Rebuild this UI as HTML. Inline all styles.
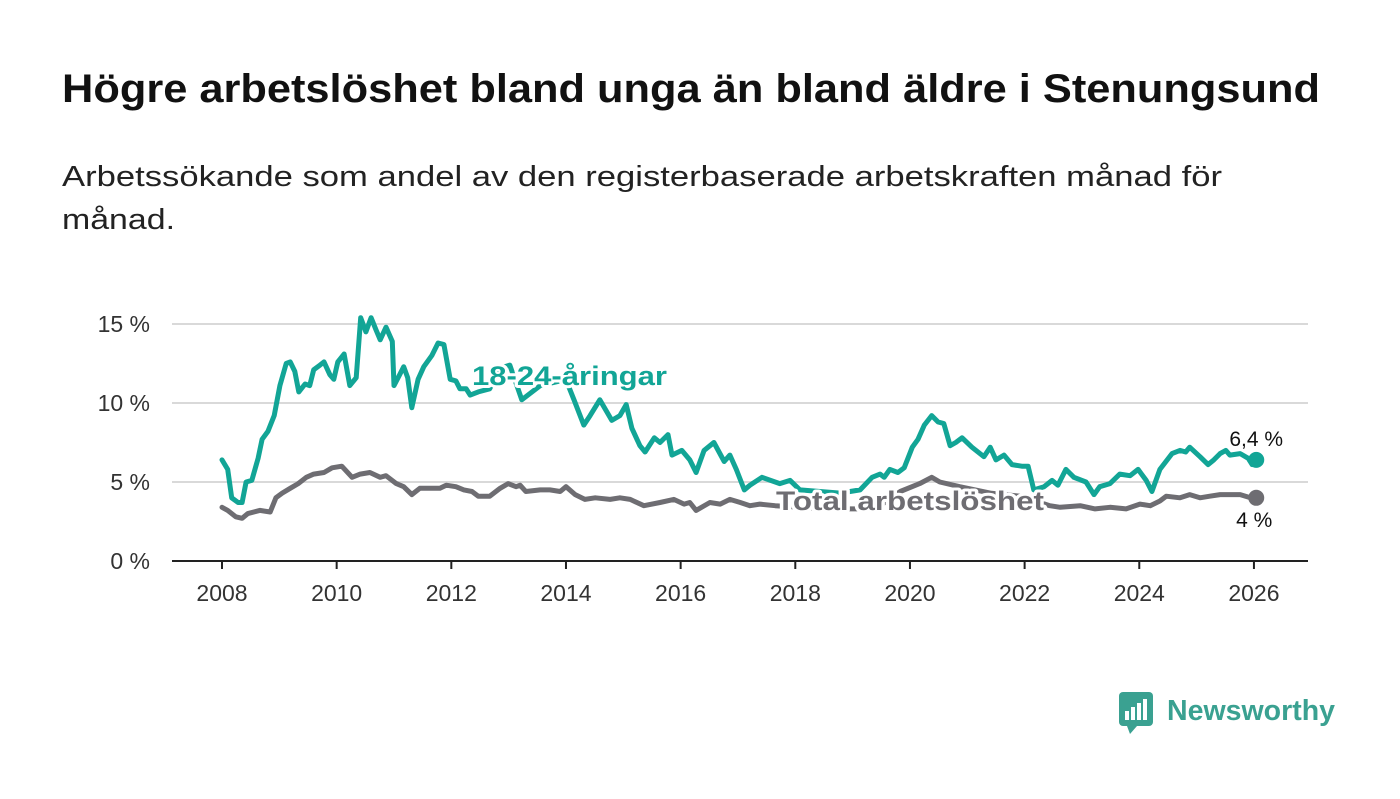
<!DOCTYPE html>
<html><head><meta charset="utf-8"><style>
html,body{margin:0;padding:0;background:#fff;}
body{width:1400px;height:794px;overflow:hidden;font-family:"Liberation Sans",sans-serif;}
</style></head><body>
<svg id="c" width="1400" height="794" xmlns="http://www.w3.org/2000/svg">
<text x="62" y="102" font-size="40" font-weight="bold" fill="#111" textLength="1258" lengthAdjust="spacingAndGlyphs">Högre arbetslöshet bland unga än bland äldre i Stenungsund</text>
<text x="62" y="186" font-size="29" fill="#222" textLength="1160" lengthAdjust="spacingAndGlyphs">Arbetssökande som andel av den registerbaserade arbetskraften månad för</text>
<text x="62" y="229" font-size="29" fill="#222" textLength="113" lengthAdjust="spacingAndGlyphs">månad.</text>
<g id="grid"></g><g id="series"></g><g id="labels"></g>
<g>
<rect x="1119" y="692" width="34" height="34" rx="4" fill="#3aa191"/>
<path d="M1127 726 L1137 726 L1130 734 Z" fill="#3aa191"/>
<rect x="1125" y="711" width="4" height="9" fill="#fff"/><rect x="1131" y="707" width="4" height="13" fill="#fff"/><rect x="1137" y="703" width="4" height="17" fill="#fff"/><rect x="1143" y="699" width="4" height="21" fill="#fff"/>
<text x="1167" y="720" font-size="29" font-weight="bold" fill="#3aa191" textLength="168" lengthAdjust="spacingAndGlyphs">Newsworthy</text>
</g>
</svg>
<script>
const yTicks=[0,5,10,15];
const yTickLabels=["0 %","5 %","10 %","15 %"];
const xTicks=[2008,2010,2012,2014,2016,2018,2020,2022,2024,2026];
const youthDates=[2008.00,2008.10,2008.17,2008.28,2008.35,2008.42,2008.52,2008.63,2008.70,2008.80,2008.91,2009.01,2009.12,2009.19,2009.27,2009.34,2009.45,2009.53,2009.60,2009.71,2009.78,2009.88,2009.95,2010.02,2010.13,2010.23,2010.34,2010.42,2010.51,2010.60,2010.69,2010.76,2010.86,2010.97,2011.00,2011.10,2011.17,2011.24,2011.31,2011.42,2011.52,2011.66,2011.77,2011.87,2011.98,2012.08,2012.15,2012.26,2012.33,2012.47,2012.67,2012.85,2013.02,2013.23,2013.55,2013.90,2014.04,2014.14,2014.31,2014.42,2014.59,2014.80,2014.94,2015.05,2015.15,2015.29,2015.38,2015.54,2015.64,2015.78,2015.85,2016.02,2016.16,2016.27,2016.41,2016.58,2016.76,2016.86,2016.97,2017.11,2017.21,2017.42,2017.73,2017.91,2018.08,2018.43,2018.78,2019.13,2019.34,2019.48,2019.55,2019.65,2019.79,2019.90,2020.04,2020.14,2020.25,2020.38,2020.49,2020.59,2020.70,2020.80,2020.91,2021.08,2021.29,2021.40,2021.50,2021.64,2021.78,2021.95,2022.06,2022.16,2022.34,2022.48,2022.58,2022.72,2022.86,2023.07,2023.21,2023.31,2023.49,2023.66,2023.84,2023.98,2024.12,2024.22,2024.36,2024.57,2024.71,2024.81,2024.88,2025.06,2025.20,2025.30,2025.41,2025.51,2025.58,2025.76,2025.90,2025.97,2026.04];
const youthValues=[6.4,5.8,4.0,3.7,3.7,5.0,5.1,6.5,7.7,8.2,9.2,11.1,12.5,12.6,12.0,10.7,11.2,11.1,12.1,12.4,12.6,11.8,11.5,12.6,13.1,11.1,11.6,15.4,14.5,15.4,14.6,14.0,14.8,13.9,11.1,11.8,12.3,11.6,9.7,11.5,12.3,13.0,13.8,13.7,11.5,11.4,10.9,10.9,10.5,10.7,10.9,12.2,12.4,10.2,11.1,11.4,11.1,10.2,8.6,9.2,10.2,8.9,9.2,9.9,8.4,7.3,6.9,7.8,7.5,8.0,6.7,7.0,6.4,5.6,7.0,7.5,6.3,6.7,5.8,4.5,4.8,5.3,4.9,5.1,4.5,4.4,4.3,4.5,5.3,5.5,5.3,5.8,5.6,5.9,7.2,7.7,8.6,9.2,8.8,8.7,7.3,7.5,7.8,7.2,6.6,7.2,6.4,6.7,6.1,6.0,6.0,4.5,4.7,5.1,4.8,5.8,5.3,5.0,4.2,4.7,4.9,5.5,5.4,5.8,5.1,4.4,5.8,6.8,7.0,6.9,7.2,6.6,6.1,6.4,6.8,7.0,6.7,6.8,6.5,6.1,6.4];
const totalDates=[2008.00,2008.10,2008.24,2008.35,2008.45,2008.66,2008.84,2008.94,2009.05,2009.19,2009.33,2009.47,2009.60,2009.78,2009.92,2010.09,2010.27,2010.41,2010.58,2010.76,2010.86,2011.04,2011.17,2011.31,2011.45,2011.80,2011.91,2012.08,2012.22,2012.36,2012.47,2012.67,2012.85,2012.99,2013.13,2013.20,2013.30,2013.55,2013.72,2013.90,2014.00,2014.16,2014.33,2014.51,2014.77,2014.94,2015.12,2015.36,2015.64,2015.88,2016.06,2016.16,2016.27,2016.51,2016.69,2016.86,2017.04,2017.21,2017.38,2017.65,2018.08,2018.61,2019.13,2019.48,2019.83,2020.17,2020.38,2020.52,2020.87,2021.40,2021.92,2022.27,2022.44,2022.62,2022.97,2023.23,2023.49,2023.77,2024.01,2024.19,2024.36,2024.47,2024.71,2024.88,2025.06,2025.23,2025.41,2025.76,2025.94,2026.04];
const totalValues=[3.4,3.2,2.8,2.7,3.0,3.2,3.1,4.0,4.3,4.6,4.9,5.3,5.5,5.6,5.9,6.0,5.3,5.5,5.6,5.3,5.4,4.9,4.7,4.2,4.6,4.6,4.8,4.7,4.5,4.4,4.1,4.1,4.6,4.9,4.7,4.8,4.4,4.5,4.5,4.4,4.7,4.2,3.9,4.0,3.9,4.0,3.9,3.5,3.7,3.9,3.6,3.7,3.2,3.7,3.6,3.9,3.7,3.5,3.6,3.5,3.4,3.3,3.3,3.5,4.4,4.9,5.3,5.0,4.7,4.3,4.1,3.7,3.5,3.4,3.5,3.3,3.4,3.3,3.6,3.5,3.8,4.1,4.0,4.2,4.0,4.1,4.2,4.2,4.0,4.0];
const NS="http://www.w3.org/2000/svg";
const X=y=>222+(y-2008)*57.33;
const Y=v=>561-v*15.8;
function mk(t,a,p){const e=document.createElementNS(NS,t);for(const k in a)e.setAttribute(k,a[k]);p.appendChild(e);return e;}
const grid=document.getElementById('grid'),ser=document.getElementById('series'),lab=document.getElementById('labels');
yTicks.forEach((t,i)=>{
  if(t>0){const l=mk('line',{x1:172,x2:1308,y1:Y(t),y2:Y(t),stroke:'#d9d9d9','stroke-width':2},grid);
  
  }
  const tx=mk('text',{x:150,y:Y(t)+8,'font-size':23,fill:'#333','text-anchor':'end'},grid);
  tx.textContent=yTickLabels[i];
  
  
});
const ax=mk('line',{x1:172,x2:1308,y1:Y(0),y2:Y(0),stroke:'#222','stroke-width':2},grid);


xTicks.forEach(t=>{
  mk('line',{x1:X(t),x2:X(t),y1:Y(0),y2:Y(0)+8,stroke:'#222','stroke-width':2},grid);
  const tx=mk('text',{x:X(t),y:601,'font-size':23,fill:'#333','text-anchor':'middle'},grid);
  tx.textContent=t;
  
  
});
function line(d,v,col,name){
  const p=mk('path',{d:d.map((x,i)=>(i?'L':'M')+X(x).toFixed(1)+' '+Y(v[i]).toFixed(1)).join(' '),fill:'none',stroke:col,'stroke-width':5,'stroke-linejoin':'round','stroke-linecap':'round'},ser);
  
  
  const n=d.length-1;
  const c=mk('circle',{cx:X(d[n]),cy:Y(v[n]),r:8,fill:col},ser);
  
  
}
line(totalDates,totalValues,'#6e6d72','total-line');
line(youthDates,youthValues,'#12a596','youth-line');
function label(x,y,txt,col,size,bold,anchor,halo,name,len){
  const a={x:x,y:y,'font-size':size,'font-weight':bold?'bold':'normal',fill:col,'text-anchor':anchor,stroke:halo?'#fff':'none','stroke-width':halo?6:0,'paint-order':'stroke','stroke-linejoin':'round'};
  if(len){a.textLength=len;a.lengthAdjust='spacingAndGlyphs';}
  const t=mk('text',a,lab);
  t.textContent=txt;
  
  
}
const ny=youthValues.length-1, nt=totalValues.length-1;
label(472,385,'18-24-åringar','#12a596',27,true,'start',true,'youth-series-label',195);
label(776,510,'Total arbetslöshet','#6e6d72',27,true,'start',true,'total-series-label',268);
label(X(youthDates[ny]),Y(youthValues[ny])-14,'6,4 %','#111',21,false,'middle',true,'youth-end-value');
label(X(totalDates[nt])-2,Y(totalValues[nt])+29,'4 %','#111',21,false,'middle',true,'total-end-value');
</script>
</body></html>
